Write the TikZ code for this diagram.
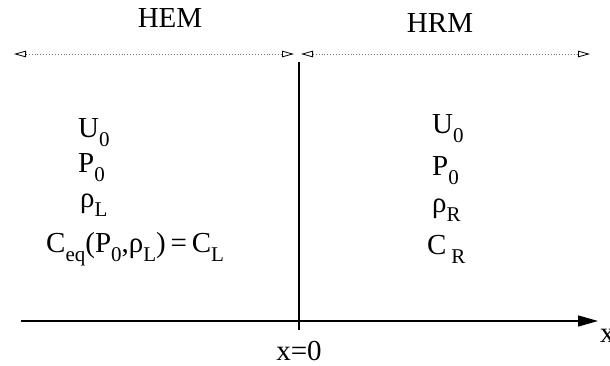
\documentclass[tikz,border=0pt]{standalone}
\usepackage{fontspec}
\setmainfont{Liberation Serif}
\usetikzlibrary{arrows.meta}
\newcommand\lowsub[1]{\raisebox{-0.32em}{\fontsize{21}{21}\selectfont #1}}
\begin{document}
\begin{tikzpicture}[x=1pt,y=-1pt,
  txt/.style={inner sep=0pt,font=\fontsize{29}{31}\selectfont},
  rng/.style={draw=black!55,dotted,line width=0.9pt,{Triangle[open,length=12pt,width=6.5pt,black,line width=0.8pt]}-{Triangle[open,length=12pt,width=6.5pt,black,line width=0.8pt]}},
  axis/.style={draw,line width=1.3pt,-{Triangle[length=20pt,width=11pt]}}]
\useasboundingbox (0,0) rectangle (610,365);
\clip (0,0) rectangle (610,365);
% labels
\node[txt,anchor=base] (hem) at (170,27) {HEM};
\node[txt,anchor=base] (hrm) at (440,32) {HRM};
% range arrows
\coordinate (l1) at (14,54);
\coordinate (l2) at (294,54);
\coordinate (r1) at (301,54);
\coordinate (r2) at (590,54);
\draw[rng] (l1) -- (l2);
\draw[rng] (r1) -- (r2);
% interface and axis
\coordinate (vtop) at (299,62);
\coordinate (vbot) at (299,330);
\draw[line width=1.1pt] (vtop) -- (vbot);
\coordinate (a1) at (21,321);
\coordinate (a2) at (598,321);
\draw[axis] (a1) -- (a2);
\node[txt,anchor=base west] (xl) at (600,342) {x};
\node[txt,anchor=base] (x0) at (299,360) {x=0};
% left state
\node[txt,anchor=base west] (lu) at (78,137) {U\lowsub{0}};
\node[txt,anchor=base west] (lp) at (78,172) {P\lowsub{0}};
\node[txt,anchor=base west] (lr) at (80,207) {ρ\lowsub{L}};
\node[txt,anchor=base west] (lc) at (46,252) {C\lowsub{eq}(P\lowsub{0},ρ\lowsub{L})\,=\,C\lowsub{L}};
% right state
\node[txt,anchor=base west] (ru) at (432,133) {U\lowsub{0}};
\node[txt,anchor=base west] (rp) at (432,175) {P\lowsub{0}};
\node[txt,anchor=base west] (rr) at (432,212) {ρ\lowsub{R}};
\node[txt,anchor=base west] (rc) at (427,254) {C\,\lowsub{R}};
\end{tikzpicture}
\end{document}
